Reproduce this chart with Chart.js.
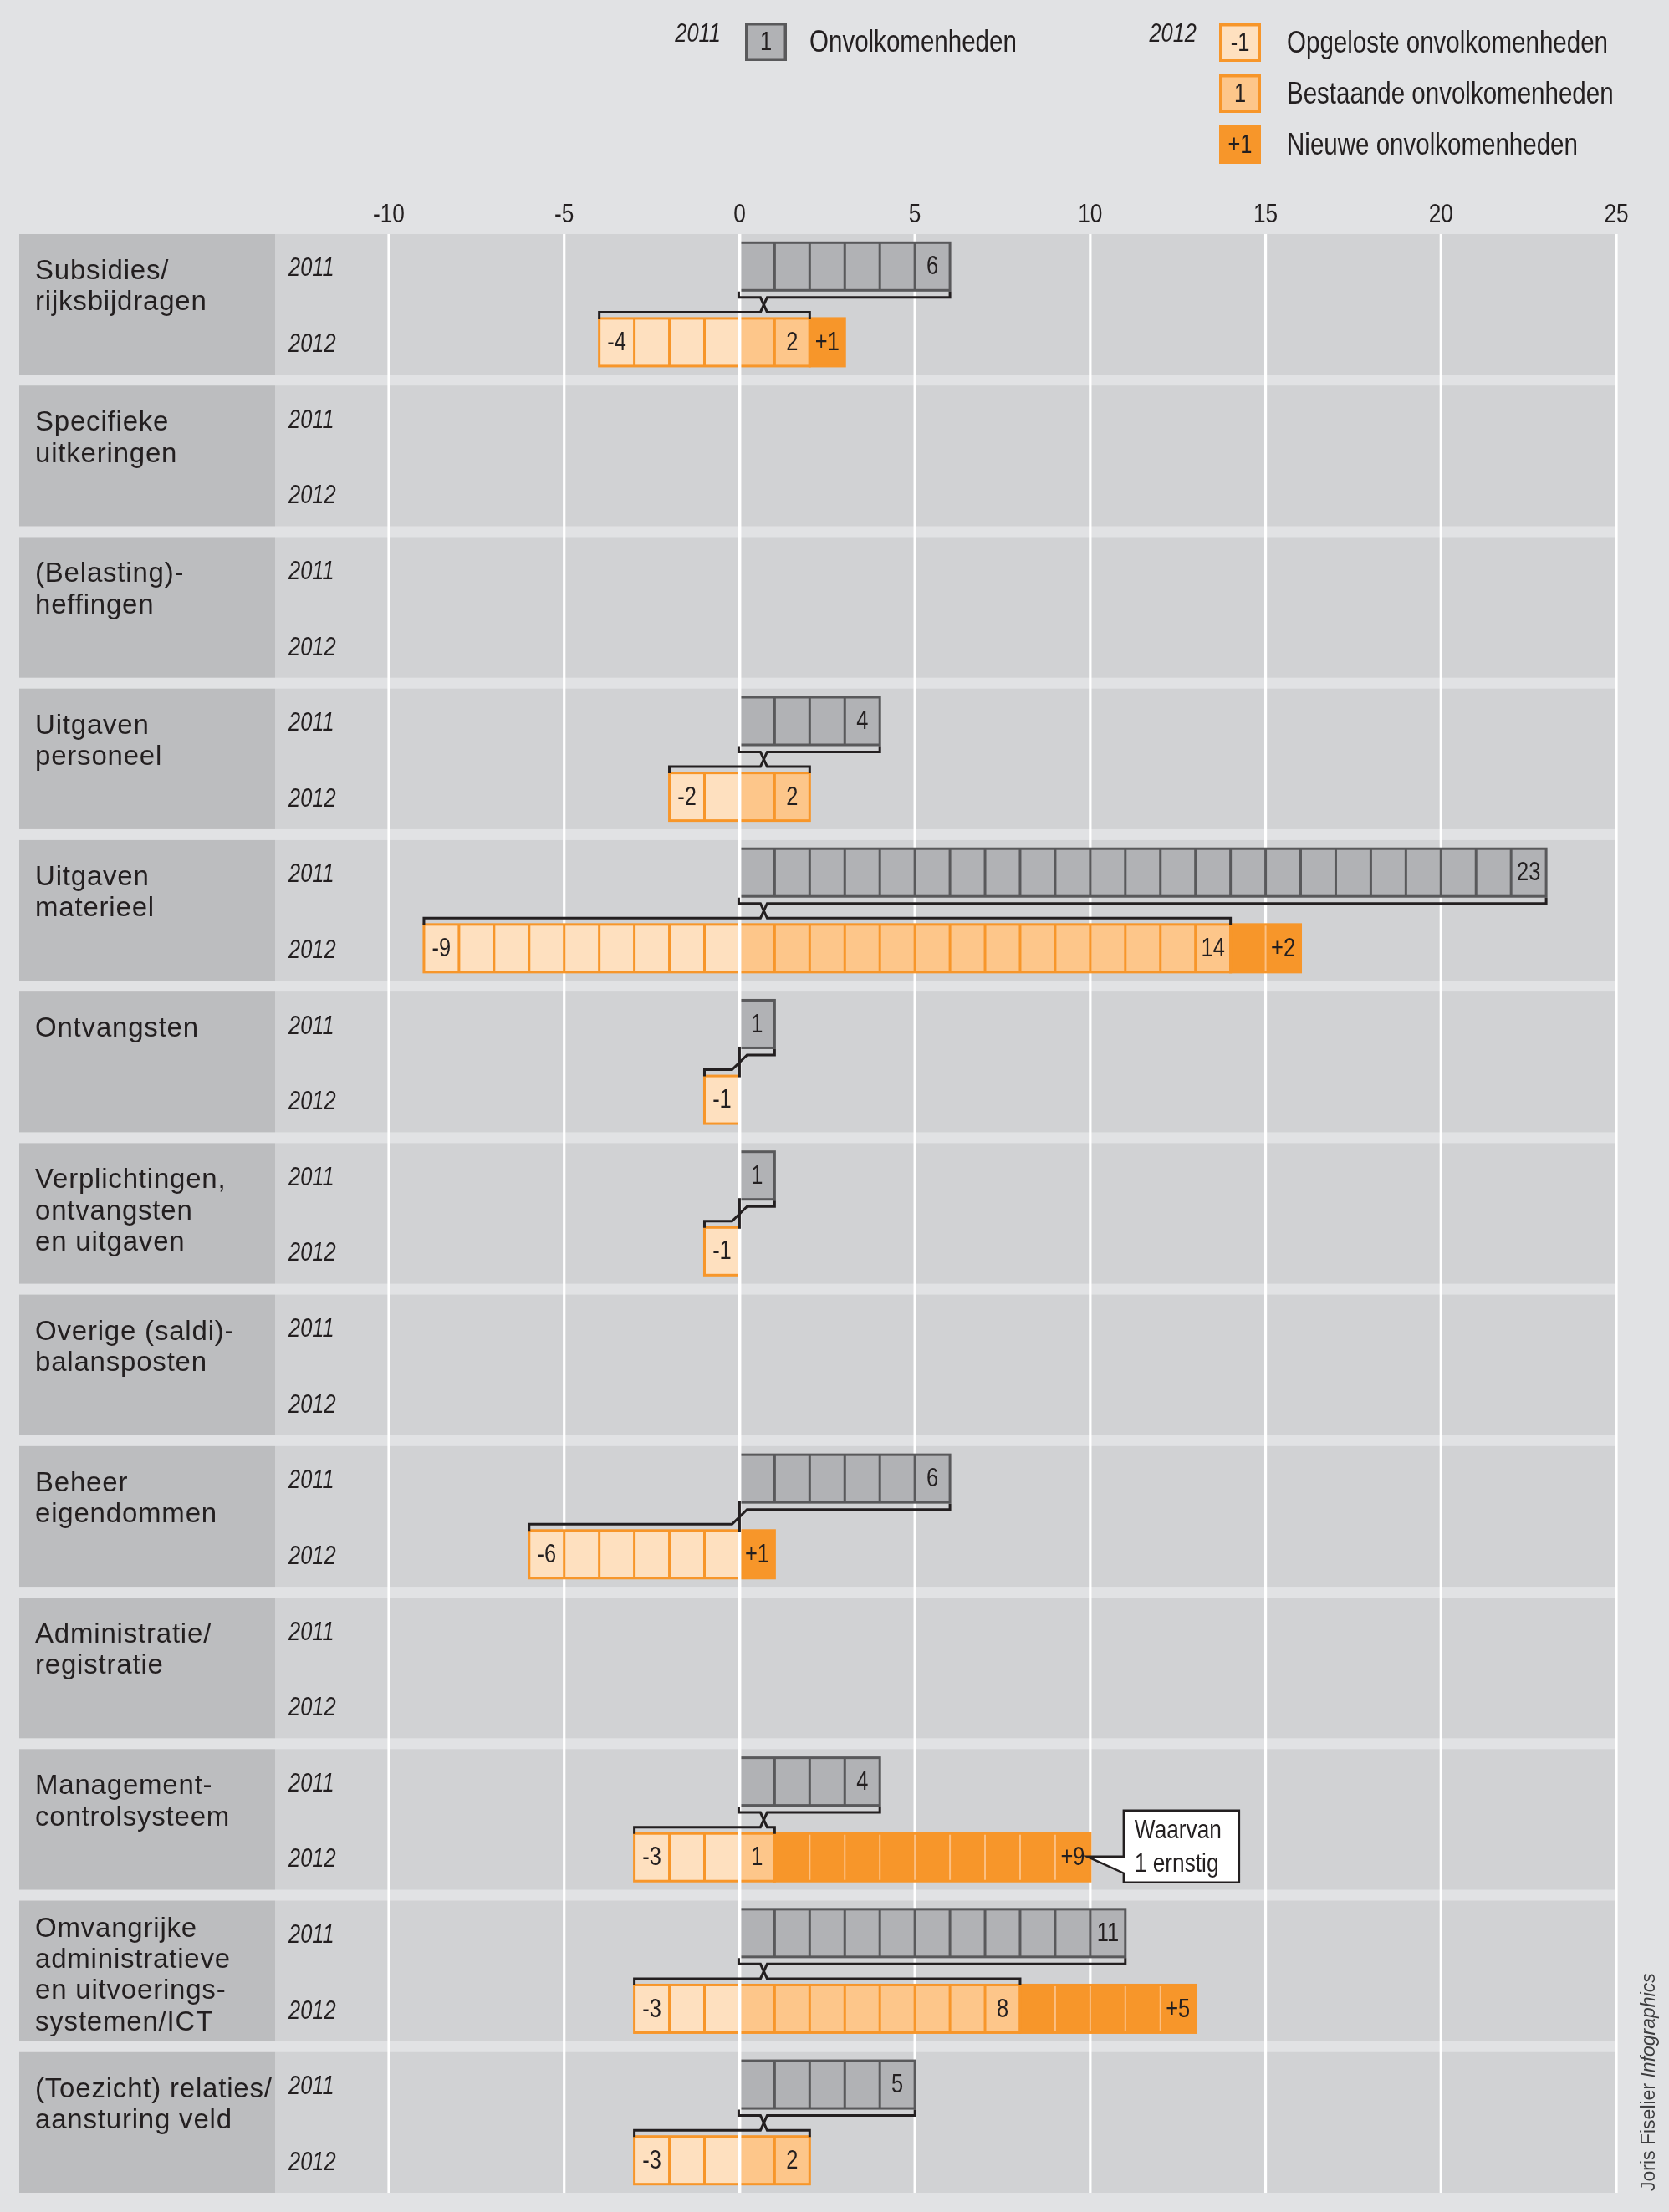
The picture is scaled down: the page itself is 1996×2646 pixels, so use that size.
<!DOCTYPE html>
<html lang="nl">
<head>
<meta charset="utf-8">
<title>Onvolkomenheden 2011-2012</title>
<script src="https://cdn.jsdelivr.net/npm/chart.js@4.4.1/dist/chart.umd.min.js"></script>
<style>
  html, body { margin: 0; padding: 0; background: #e1e2e4; }
  #wrap { position: relative; width: 1996px; height: 2646px; }
</style>
</head>
<body>
<div id="wrap"><canvas id="chart"></canvas></div>
<script>
// Rows of the chart, top to bottom
var categories = [
  "Subsidies/\nrijksbijdragen",
  "Specifieke\nuitkeringen",
  "(Belasting)-\nheffingen",
  "Uitgaven\npersoneel",
  "Uitgaven\nmaterieel",
  "Ontvangsten",
  "Verplichtingen,\nontvangsten\nen uitgaven",
  "Overige (saldi)-\nbalansposten",
  "Beheer\neigendommen",
  "Administratie/\nregistratie",
  "Management-\ncontrolsysteem",
  "Omvangrijke\nadministratieve\nen uitvoerings-\nsystemen/ICT",
  "(Toezicht) relaties/\naansturing veld"
];
var years = ["2011", "2012"];

// 2011: onvolkomenheden per row
var onvolkomenheden2011 = [6, 0, 0, 4, 23, 1, 1, 0, 6, 0, 4, 11, 5];
// 2012: opgelost (drawn below zero), nog bestaand, nieuw
var opgelost2012 = [4, 0, 0, 2, 9, 1, 1, 0, 6, 0, 3, 3, 3];
var bestaand2012 = [2, 0, 0, 2, 14, 0, 0, 0, 0, 0, 1, 8, 2];
var nieuw2012 = [1, 0, 0, 0, 2, 0, 0, 0, 1, 0, 9, 5, 0];

var xTicks = [-10, -5, 0, 5, 10, 15, 20, 25];

// callout on the Management-controlsysteem row
var noteRow = 10;
var noteLines = ["Waarvan", "1 ernstig"];

var legend2011Sample = "1";
var legend2011Text = "Onvolkomenheden";
var legend2012Samples = ["-1", "1", "+1"];
var legend2012Texts = ["Opgeloste onvolkomenheden", "Bestaande onvolkomenheden", "Nieuwe onvolkomenheden"];

var creditName = "Joris Fiselier ";
var creditRole = "Infographics";

// colours and fonts
var INK = "#231f20";
var PAGE = "#e1e2e4", ROW = "#d1d2d4", PANEL = "#bcbdbf";
var GRAY = "#b1b2b5", GRAY_LINE = "#59595b";
var LIGHT = "#fee0bf", MID = "#fdc68a", ORANGE = "#f7962a", ORANGE_DIV = "#fcc083";
var SANS = '"Liberation Sans", Arial, Helvetica, sans-serif';
var SQUEEZE = 0.82; // no condensed face installed, so squeeze the sans horizontally
var BAR = 57;

// build the floating-bar data, two slots (2011, 2012) per row
var labels = [], grayData = [], resolvedData = [], existingData = [], newData = [];
for (var i = 0; i < categories.length; i++) {
  var n = onvolkomenheden2011[i], k = opgelost2012[i], m = bestaand2012[i], p = nieuw2012[i];
  var flat = categories[i].replace(/\n/g, " ");
  labels.push(flat + " " + years[0], flat + " " + years[1]);
  grayData.push(n > 0 ? [0, n] : null, null);
  resolvedData.push(null, k > 0 ? [-k, 0] : null);
  existingData.push(null, m > 0 ? [0, m] : null);
  newData.push(null, p > 0 ? [m, m + p] : null);
}

// condensed text
function narrow(ctx, text, x, y, size, style, align, baseline) {
  ctx.save();
  ctx.font = (style ? style + " " : "") + size + "px " + SANS;
  ctx.textAlign = align || "left";
  ctx.textBaseline = baseline || "middle";
  ctx.fillStyle = INK;
  ctx.translate(x, y);
  ctx.scale(SQUEEZE, 1);
  ctx.fillText(text, 0, 0);
  ctx.restore();
}

function rowBounds(chart, i) {
  var y = chart.scales.y;
  var half = (y.getPixelForValue(1) - y.getPixelForValue(0)) / 2;
  return {
    top: y.getPixelForValue(2 * i) - half + 6.5,
    bottom: y.getPixelForValue(2 * i + 1) + half - 6.5
  };
}

function sampleBox(ctx, x, y, fill, line, text) {
  ctx.fillStyle = fill;
  ctx.fillRect(x, y, 50, 46);
  if (line) {
    ctx.strokeStyle = line;
    ctx.lineWidth = 3.5;
    ctx.strokeRect(x + 1.75, y + 1.75, 46.5, 42.5);
  }
  narrow(ctx, text, x + 25, y + 24, 31, "", "center");
}

function drawLegend(ctx) {
  narrow(ctx, years[0], 862, 41, 31, "italic", "right");
  narrow(ctx, years[1], 1431, 41, 31, "italic", "right");

  sampleBox(ctx, 891, 27, GRAY, GRAY_LINE, legend2011Sample);
  narrow(ctx, legend2011Text, 968, 52, 36, "", "left");

  var fills = [LIGHT, MID, ORANGE];
  var lines = [ORANGE, ORANGE, null];
  for (var j = 0; j < 3; j++) {
    sampleBox(ctx, 1458, 28 + 61 * j, fills[j], lines[j], legend2012Samples[j]);
    narrow(ctx, legend2012Texts[j], 1539, 53 + 61 * j, 36, "", "left");
  }
}

// unit cells inside one bar segment
function segment(ctx, xs, from, to, yc, outline, divider, divWidth) {
  var y0 = yc - BAR / 2;
  ctx.lineWidth = divWidth;
  ctx.strokeStyle = divider;
  for (var v = from + 1; v < to; v++) {
    var x = xs.getPixelForValue(v);
    ctx.beginPath();
    ctx.moveTo(x, y0);
    ctx.lineTo(x, y0 + BAR);
    ctx.stroke();
  }
  var x0 = xs.getPixelForValue(from), x1 = xs.getPixelForValue(to);
  ctx.lineWidth = 3;
  ctx.strokeStyle = outline;
  ctx.strokeRect(x0, y0, x1 - x0, BAR);
}

var layoutPlugin = {
  id: "layoutPlugin",
  beforeDraw: function (chart) {
    var ctx = chart.ctx, xs = chart.scales.x;
    ctx.save();
    ctx.fillStyle = PAGE;
    ctx.fillRect(0, 0, chart.width, chart.height);

    var right = xs.getPixelForValue(xTicks[xTicks.length - 1]);
    categories.forEach(function (name, i) {
      var r = rowBounds(chart, i);
      ctx.fillStyle = PANEL;
      ctx.fillRect(23, r.top, 306, r.bottom - r.top);
      ctx.fillStyle = ROW;
      ctx.fillRect(329, r.top, right - 329, r.bottom - r.top);

      var lines = name.split("\n");
      ctx.fillStyle = INK;
      ctx.font = "33px " + SANS;
      ctx.textAlign = "left";
      ctx.textBaseline = "alphabetic";
      ctx.letterSpacing = "0.8px";
      var first = r.top + (lines.length > 3 ? 43 : 54);
      lines.forEach(function (t, j) {
        ctx.fillText(t, 42, first + j * 37.4);
      });
      ctx.letterSpacing = "0px";
    });

    // grid lines (zero line is drawn later, on top of the bars)
    var top = rowBounds(chart, 0).top;
    var bottom = rowBounds(chart, categories.length - 1).bottom;
    ctx.fillStyle = "#ffffff";
    xTicks.forEach(function (v) {
      if (v === 0) return;
      var x = xs.getPixelForValue(v);
      ctx.fillRect(x - 1.6, top, 3.2, bottom - top);
    });

    drawLegend(ctx);
    ctx.restore();
  },

  afterDatasetsDraw: function (chart) {
    var ctx = chart.ctx, xs = chart.scales.x, ys = chart.scales.y;
    function X(v) { return xs.getPixelForValue(v); }
    ctx.save();

    // cells
    for (var i = 0; i < categories.length; i++) {
      var n = onvolkomenheden2011[i], k = opgelost2012[i], m = bestaand2012[i], p = nieuw2012[i];
      var y11 = ys.getPixelForValue(2 * i), y12 = ys.getPixelForValue(2 * i + 1);
      if (n > 0) segment(ctx, xs, 0, n, y11, GRAY_LINE, GRAY_LINE, 3);
      if (k > 0) segment(ctx, xs, -k, 0, y12, ORANGE, ORANGE, 3);
      if (m > 0) segment(ctx, xs, 0, m, y12, ORANGE, ORANGE, 3);
      if (p > 0) segment(ctx, xs, m, m + p, y12, ORANGE, ORANGE_DIV, 2);
    }

    // zero line over everything
    var top = rowBounds(chart, 0).top;
    var bottom = rowBounds(chart, categories.length - 1).bottom;
    ctx.fillStyle = "#ffffff";
    ctx.fillRect(X(0) - 2, top, 4, bottom - top);

    // numbers in the cells
    for (i = 0; i < categories.length; i++) {
      n = onvolkomenheden2011[i]; k = opgelost2012[i]; m = bestaand2012[i]; p = nieuw2012[i];
      y11 = ys.getPixelForValue(2 * i); y12 = ys.getPixelForValue(2 * i + 1);
      if (n > 0) narrow(ctx, String(n), X(n - 0.5), y11 + 1, 31, "", "center");
      if (k > 0) narrow(ctx, "-" + k, X(-k + 0.5), y12 + 1, 31, "", "center");
      if (m > 0) narrow(ctx, String(m), X(m - 0.5), y12 + 1, 31, "", "center");
      if (p > 0) narrow(ctx, "+" + p, X(m + p - 0.5), y12 + 1, 31, "", "center");
    }

    // brackets linking the 2011 total to the 2012 resolved + existing
    ctx.strokeStyle = INK;
    ctx.lineWidth = 3;
    ctx.lineJoin = "miter";
    ctx.lineCap = "butt";
    for (i = 0; i < categories.length; i++) {
      n = onvolkomenheden2011[i]; k = opgelost2012[i]; m = bestaand2012[i];
      if (n <= 0) continue;
      y11 = ys.getPixelForValue(2 * i); y12 = ys.getPixelForValue(2 * i + 1);
      var gBottom = y11 + BAR / 2 + 1.5, oTop = y12 - BAR / 2 - 1.5;
      var yU = gBottom + 7, yL = oTop - 6;
      var x0 = X(0);
      if (m > 0) {
        var xc = x0 + 29;
        ctx.beginPath();
        ctx.moveTo(x0 - 1, gBottom);
        ctx.lineTo(x0 - 1, yU);
        ctx.lineTo(xc - 4, yU);
        ctx.lineTo(xc + 4, yL);
        ctx.lineTo(X(m), yL);
        ctx.lineTo(X(m), oTop + 2);
        ctx.stroke();
        ctx.beginPath();
        ctx.moveTo(X(-k), oTop + 2);
        ctx.lineTo(X(-k), yL);
        ctx.lineTo(xc - 4, yL);
        ctx.lineTo(xc + 4, yU);
        ctx.lineTo(X(n), yU);
        ctx.lineTo(X(n), gBottom);
        ctx.stroke();
      } else {
        ctx.beginPath();
        ctx.moveTo(x0, gBottom - 3);
        ctx.lineTo(x0, oTop + 3);
        ctx.stroke();
        ctx.beginPath();
        ctx.moveTo(X(n), gBottom);
        ctx.lineTo(X(n), yU);
        ctx.lineTo(x0 + 9, yU);
        ctx.lineTo(x0 - 9, yL);
        ctx.lineTo(X(-k), yL);
        ctx.lineTo(X(-k), oTop + 2);
        ctx.stroke();
      }
    }

    // callout
    var end = bestaand2012[noteRow] + nieuw2012[noteRow];
    var tipX = X(end) - 4, tipY = ys.getPixelForValue(2 * noteRow + 1) - 1;
    var bx = tipX + 44, by = tipY - 55, bw = 138, bh = 86;
    ctx.beginPath();
    ctx.moveTo(bx, by);
    ctx.lineTo(bx + bw, by);
    ctx.lineTo(bx + bw, by + bh);
    ctx.lineTo(bx, by + bh);
    ctx.lineTo(bx, by + 75);
    ctx.lineTo(tipX, tipY);
    ctx.lineTo(bx, by + 55);
    ctx.closePath();
    ctx.fillStyle = "#ffffff";
    ctx.fill();
    ctx.lineWidth = 2.5;
    ctx.strokeStyle = INK;
    ctx.stroke();
    narrow(ctx, noteLines[0], bx + 13, by + 33, 32, "", "left", "alphabetic");
    narrow(ctx, noteLines[1], bx + 13, by + 73, 32, "", "left", "alphabetic");

    ctx.restore();
  },

  afterDraw: function (chart) {
    var ctx = chart.ctx, xs = chart.scales.x, ys = chart.scales.y;

    // axis labels, placed by the scales, in condensed type
    xs.ticks.forEach(function (t) {
      narrow(ctx, String(t.value), xs.getPixelForValue(t.value), chart.chartArea.top - 16, 32, "", "center");
    });
    ys.ticks.forEach(function (t, idx) {
      narrow(ctx, years[idx % 2], ys.left, ys.getPixelForTick(idx) + 3, 31, "italic", "left");
    });

    // credit
    ctx.save();
    ctx.translate(1979, 2621);
    ctx.rotate(-Math.PI / 2);
    ctx.fillStyle = "#3c3c3e";
    ctx.textAlign = "left";
    ctx.textBaseline = "alphabetic";
    ctx.font = "23px " + SANS;
    ctx.fillText(creditName, 0, 0);
    var w = ctx.measureText(creditName).width;
    ctx.font = "italic 23px " + SANS;
    ctx.fillText(creditRole, w, 0);
    ctx.restore();
  }
};

new Chart(document.getElementById("chart"), {
  type: "bar",
  data: {
    labels: labels,
    datasets: [
      { label: "Onvolkomenheden 2011", data: grayData, backgroundColor: GRAY },
      { label: "Opgeloste onvolkomenheden", data: resolvedData, backgroundColor: LIGHT },
      { label: "Bestaande onvolkomenheden", data: existingData, backgroundColor: MID },
      { label: "Nieuwe onvolkomenheden", data: newData, backgroundColor: ORANGE }
    ]
  },
  options: {
    indexAxis: "y",
    responsive: true,
    maintainAspectRatio: false,
    animation: false,
    datasets: { bar: { grouped: false, barThickness: BAR, borderWidth: 0 } },
    layout: { padding: { left: 345, right: 63, top: 213.5, bottom: 16.5 } },
    plugins: { legend: { display: false }, tooltip: { enabled: false } },
    scales: {
      x: {
        type: "linear",
        position: "top",
        min: -10,
        max: 25,
        afterBuildTicks: function (s) {
          s.ticks = xTicks.map(function (v) { return { value: v }; });
        },
        afterFit: function (s) { s.height = 60; },
        grid: { display: false, drawTicks: false },
        border: { display: false },
        ticks: { display: false }
      },
      y: {
        type: "category",
        position: "left",
        afterFit: function (s) { s.width = 120; },
        grid: { display: false, drawTicks: false },
        border: { display: false },
        ticks: { display: false, autoSkip: false }
      }
    }
  },
  plugins: [layoutPlugin]
});
</script>
</body>
</html>
